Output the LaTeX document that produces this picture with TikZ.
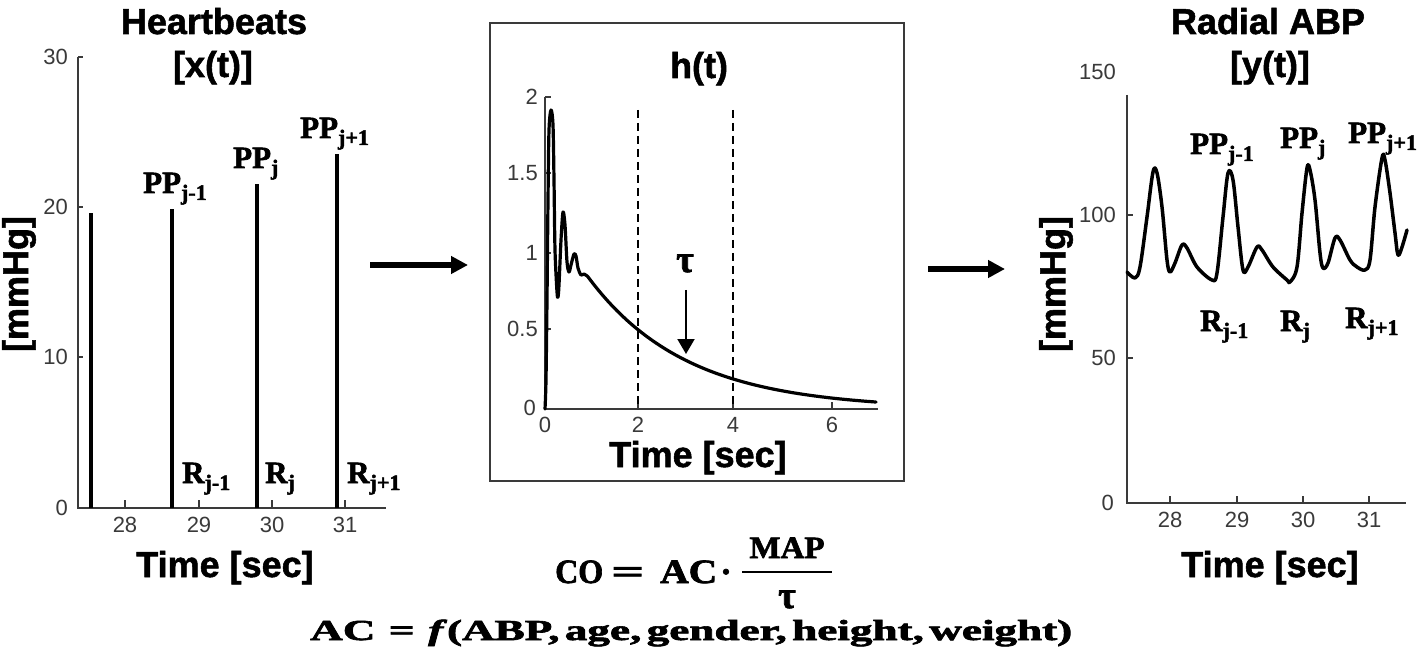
\documentclass[tikz,border=0pt]{standalone}
\usepackage{fontspec}
\setmainfont{Liberation Sans}[BoldFeatures={FakeBold=1.5}]
\newfontfamily\srf{Liberation Serif}[BoldFeatures={FakeBold=2},BoldItalicFeatures={FakeBold=2}]
\usetikzlibrary{arrows.meta}
\definecolor{axgray}{HTML}{3A3A3A}
\newcommand\fitw[2]{\resizebox{#1}{\height}{#2}}
\newcommand\sbs[1]{\raisebox{-7pt}{\fontsize{22}{22}\selectfont #1}}
\tikzset{
 axisline/.style={draw=axgray, line width=1.3pt},
 ticklab/.style={font=\fontsize{22}{22}\selectfont, text=axgray, inner sep=0pt},
 ttl/.style={font=\bfseries\fontsize{36}{36}\selectfont, inner sep=0pt, anchor=base},
 lbl/.style={font=\srf\bfseries\fontsize{31}{31}\selectfont, inner sep=0pt, anchor=base west},
 frm/.style={font=\srf\bfseries\fontsize{34}{34}\selectfont, inner sep=0pt},
 bar/.style={line width=4pt, black},
 sig/.style={line width=3.2pt, black, line join=round, line cap=round},
 bigarrow/.style={line width=6pt, -{Triangle[length=17pt,width=17pt]}},
 vdash/.style={line width=2.2pt, dash pattern=on 8pt off 5pt},
}
\begin{document}
\begin{tikzpicture}[x=1pt,y=-1pt]
\useasboundingbox (0,0) rectangle (1424,660);
\fill[white] (0,0) rectangle (1424,660);

% ===== Left plot: heartbeats =====
\draw[axisline] (78,57) -- (78,508) -- (386,508);
\foreach \yy in {57,207,357} \draw[axisline] (78,\yy) -- (83,\yy);
\foreach \xx in {125,199,272,345} \draw[axisline] (\xx,508) -- (\xx,500);
\node[ticklab, anchor=east] (ly30) at (68,57) {30};
\node[ticklab, anchor=east] (ly20) at (68,207) {20};
\node[ticklab, anchor=east] (ly10) at (68,357) {10};
\node[ticklab, anchor=east] (ly0) at (68,508) {0};
\node[ticklab] (lx28) at (125,525) {28};
\node[ticklab] (lx29) at (199,525) {29};
\node[ticklab] (lx30) at (272,525) {30};
\node[ticklab] (lx31) at (345,525) {31};
\draw[bar] (91,508) -- (91,213);
\draw[bar] (172,508) -- (172,209);
\draw[bar] (257,508) -- (257,184);
\draw[bar] (337,508) -- (337,154);
\node[lbl] (lpp1) at (143,193) {PP\sbs{j-1}};
\node[lbl] (lpp2) at (233,168) {PP\sbs{j}};
\node[lbl] (lpp3) at (300,138) {PP\sbs{j+1}};
\node[lbl] (lr1) at (182,483) {R\sbs{j-1}};
\node[lbl] (lr2) at (265,483) {R\sbs{j}};
\node[lbl] (lr3) at (347,483) {R\sbs{j+1}};
\node[ttl] (t1) at (214,34) {Heartbeats};
\node[ttl] (t1b) at (213,77) {[x(t)]};
\node[ttl] (xl1) at (225,577) {Time [sec]};
\node[ttl, anchor=center, rotate=90] (yl1) at (19,284) {[mmHg]};

% ===== Centre: h(t) =====
\node[draw=axgray, line width=2.5pt, minimum width=414pt, minimum height=458pt, inner sep=0pt] (hbox) at (697,252) {};
\draw[axisline] (545,97) -- (545,409) -- (878,409);
\foreach \yy in {97,173,253,329} \draw[axisline] (545,\yy) -- (551,\yy);
\foreach \xx in {638,733,832} \draw[axisline] (\xx,409) -- (\xx,402);
\node[ticklab, anchor=east] (cy2) at (538,97) {2};
\node[ticklab, anchor=east] (cy15) at (538,173) {1.5};
\node[ticklab, anchor=east] (cy1) at (538,253) {1};
\node[ticklab, anchor=east] (cy05) at (538,329) {0.5};
\node[ticklab, anchor=east] (cy0) at (536,408) {0};
\node[ticklab] (cx0) at (545,425) {0};
\node[ticklab] (cx2) at (638,425) {2};
\node[ticklab] (cx4) at (733,425) {4};
\node[ticklab] (cx6) at (832,425) {6};
\draw[vdash] (638,110) -- (638,409);
\draw[vdash] (733,110) -- (733,409);
\draw[sig] plot[smooth, tension=0.5] coordinates {(545,409) (546,380) (547,300) (548,200) (549,130) (551,110) (553,125) (554,180) (555,250) (557,292) (558,297) (559,285) (561,240) (563,212) (565,225) (567,262) (569,272) (571,265) (574,254) (576,256) (578,268) (581,275) (584,274) (587.6,276.4)}
  -- plot[domain=0.9:7, samples=60] ({545+47.3*\x},{409-78*exp(-(\x-2)/2.07)});
\node[lbl, anchor=base, font=\srf\bfseries\fontsize{38}{38}\selectfont] (tau) at (685,272) {τ};
\coordinate (tauS) at (686,290);
\coordinate (tauE) at (686,354);
\draw[line width=2pt, -{Triangle[length=15pt,width=17pt]}] (tauS) -- (tauE);
\node[ttl] (t2) at (699,78) {h(t)};
\node[ttl] (xl2) at (698,467) {Time [sec]};

% ===== Arrows =====
\coordinate (a1s) at (370,265);
\coordinate (a1e) at (468,265);
\draw[bigarrow] (a1s) -- (a1e);
\coordinate (a2s) at (928,269);
\coordinate (a2e) at (1005,269);
\draw[bigarrow] (a2s) -- (a2e);

% ===== Right plot: radial ABP =====
\draw[axisline] (1127,95) -- (1127,503) -- (1406,503);
\foreach \yy in {215,358} \draw[axisline] (1127,\yy) -- (1133,\yy);
\foreach \xx in {1170,1237,1303,1369} \draw[axisline] (\xx,503) -- (\xx,496);
\node[ticklab, anchor=east] (ry150) at (1116,72) {150};
\node[ticklab, anchor=east] (ry100) at (1116,215) {100};
\node[ticklab, anchor=east] (ry50) at (1116,358) {50};
\node[ticklab, anchor=east] (ry0) at (1114,503) {0};
\node[ticklab] (rx28) at (1170,520) {28};
\node[ticklab] (rx29) at (1237,520) {29};
\node[ticklab] (rx30) at (1303,520) {30};
\node[ticklab] (rx31) at (1369,520) {31};
\draw[sig, line width=3.5pt] plot[smooth, tension=0.55] coordinates {(1127,272) (1135,278) (1140,267) (1147,217) (1153,172) (1157,173) (1162,207) (1167,260) (1170,272) (1175,263) (1182,245) (1187,248) (1197,267) (1212,280) (1217,273) (1223,217) (1228,173) (1233,180) (1238,227) (1243,270) (1248,267) (1257,247) (1262,250) (1273,267) (1287,280) (1290,282) (1297,267) (1302,213) (1307,168) (1310,170) (1315,200) (1320,253) (1323,268) (1328,263) (1335,238) (1340,240) (1350,260) (1357,267) (1365,270) (1370,260) (1375,207) (1382,158) (1385,160) (1390,193) (1395,233) (1398,255) (1402,247) (1407,230)};
\node[lbl] (rpp1) at (1190,154) {PP\sbs{j-1}};
\node[lbl] (rpp2) at (1280,148) {PP\sbs{j}};
\node[lbl] (rpp3) at (1348,143) {PP\sbs{j+1}};
\node[lbl] (rr1) at (1200,331) {R\sbs{j-1}};
\node[lbl] (rr2) at (1280,331) {R\sbs{j}};
\node[lbl] (rr3) at (1345,328) {R\sbs{j+1}};
\node[ttl] (t3) at (1268,34) {Radial ABP};
\node[ttl] (t3b) at (1270,77) {[y(t)]};
\node[ttl] (xl3) at (1270,577) {Time [sec]};
\node[ttl, anchor=center, rotate=90] (yl3) at (1056,284) {[mmHg]};

% ===== Formulas =====
\node[frm, anchor=base west] (fco) at (555,583) {\fitw{48pt}{CO}};
\node[frm, anchor=base west] (feq) at (611,583) {\fitw{33pt}{=}};
\node[frm, anchor=base west] (fac) at (660,583) {\fitw{57pt}{AC}};
\node[frm, anchor=base] (fdot) at (726,583) {·};
\node[frm, anchor=base, font=\srf\bfseries\fontsize{31}{31}\selectfont] (fmap) at (787,558) {\fitw{75pt}{MAP}};
\coordinate (fbl) at (742,572);
\coordinate (fbr) at (832,572);
\draw[line width=2.5pt] (fbl) -- (fbr);
\node[frm, anchor=base, font=\srf\bfseries\fontsize{38}{38}\selectfont] (ftau) at (787,608) {τ};
\node[frm, anchor=base west, font=\srf\bfseries\fontsize{29}{29}\selectfont] (facf) at (310,640) {\fitw{762pt}{AC\hspace{0.3em}=\hspace{0.3em}\textit{f}(ABP,\hspace{0.12em}age,\hspace{0.12em}gender,\hspace{0.12em}height,\hspace{0.12em}weight)}};
\end{tikzpicture}
\end{document}
